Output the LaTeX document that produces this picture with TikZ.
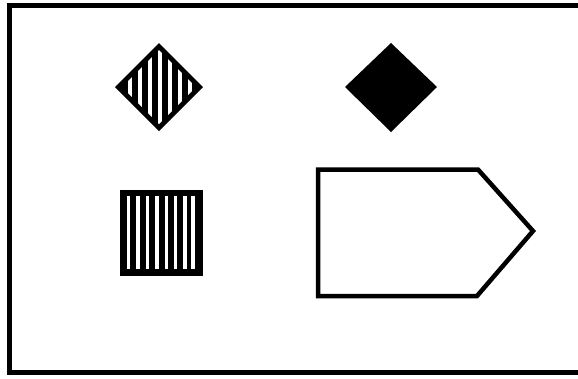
\documentclass[tikz,border=0pt]{standalone}
\begin{document}
\begin{tikzpicture}[x=1pt,y=-1pt,
  frame/.style={draw=black,line width=5pt},
  outl/.style={draw=black,line width=4.5pt,line join=miter},
  gap/.style={draw=white,line width=3.6pt}]
\useasboundingbox (0,0) rectangle (578,378);
% outer frame (right edge runs partly off the picture)
\begin{scope}
  \clip (0,0) rectangle (578,378);
  \draw[frame] (9.5,5.5) rectangle (580,372.5);
\end{scope}
% hatched diamond
\coordinate (hd) at (159,87);
\fill[black] (159,43) -- (203,87) -- (159,131) -- (115,87) -- cycle;
\begin{scope}
  \clip (159,50) -- (196,87) -- (159,124) -- (122,87) -- cycle;
  \foreach \x in {130,140,150,160,170,180,190}
    \draw[gap] (\x,40) -- (\x,135);
\end{scope}
% filled diamond
\fill[black] (391,43) -- (437,87) -- (391,132) -- (345,87) -- cycle;
% hatched square
\fill[black] (120,190) rectangle (203,276);
\foreach \x in {128.5,138,147.5,157,166.5,175.5,185,193}
  \draw[gap] (\x,195.5) -- (\x,269);
% pentagon
\draw[outl] (318,169.5) -- (478,169.5) -- (533,231) -- (477,296) -- (318,296) -- cycle;
\end{tikzpicture}
\end{document}
